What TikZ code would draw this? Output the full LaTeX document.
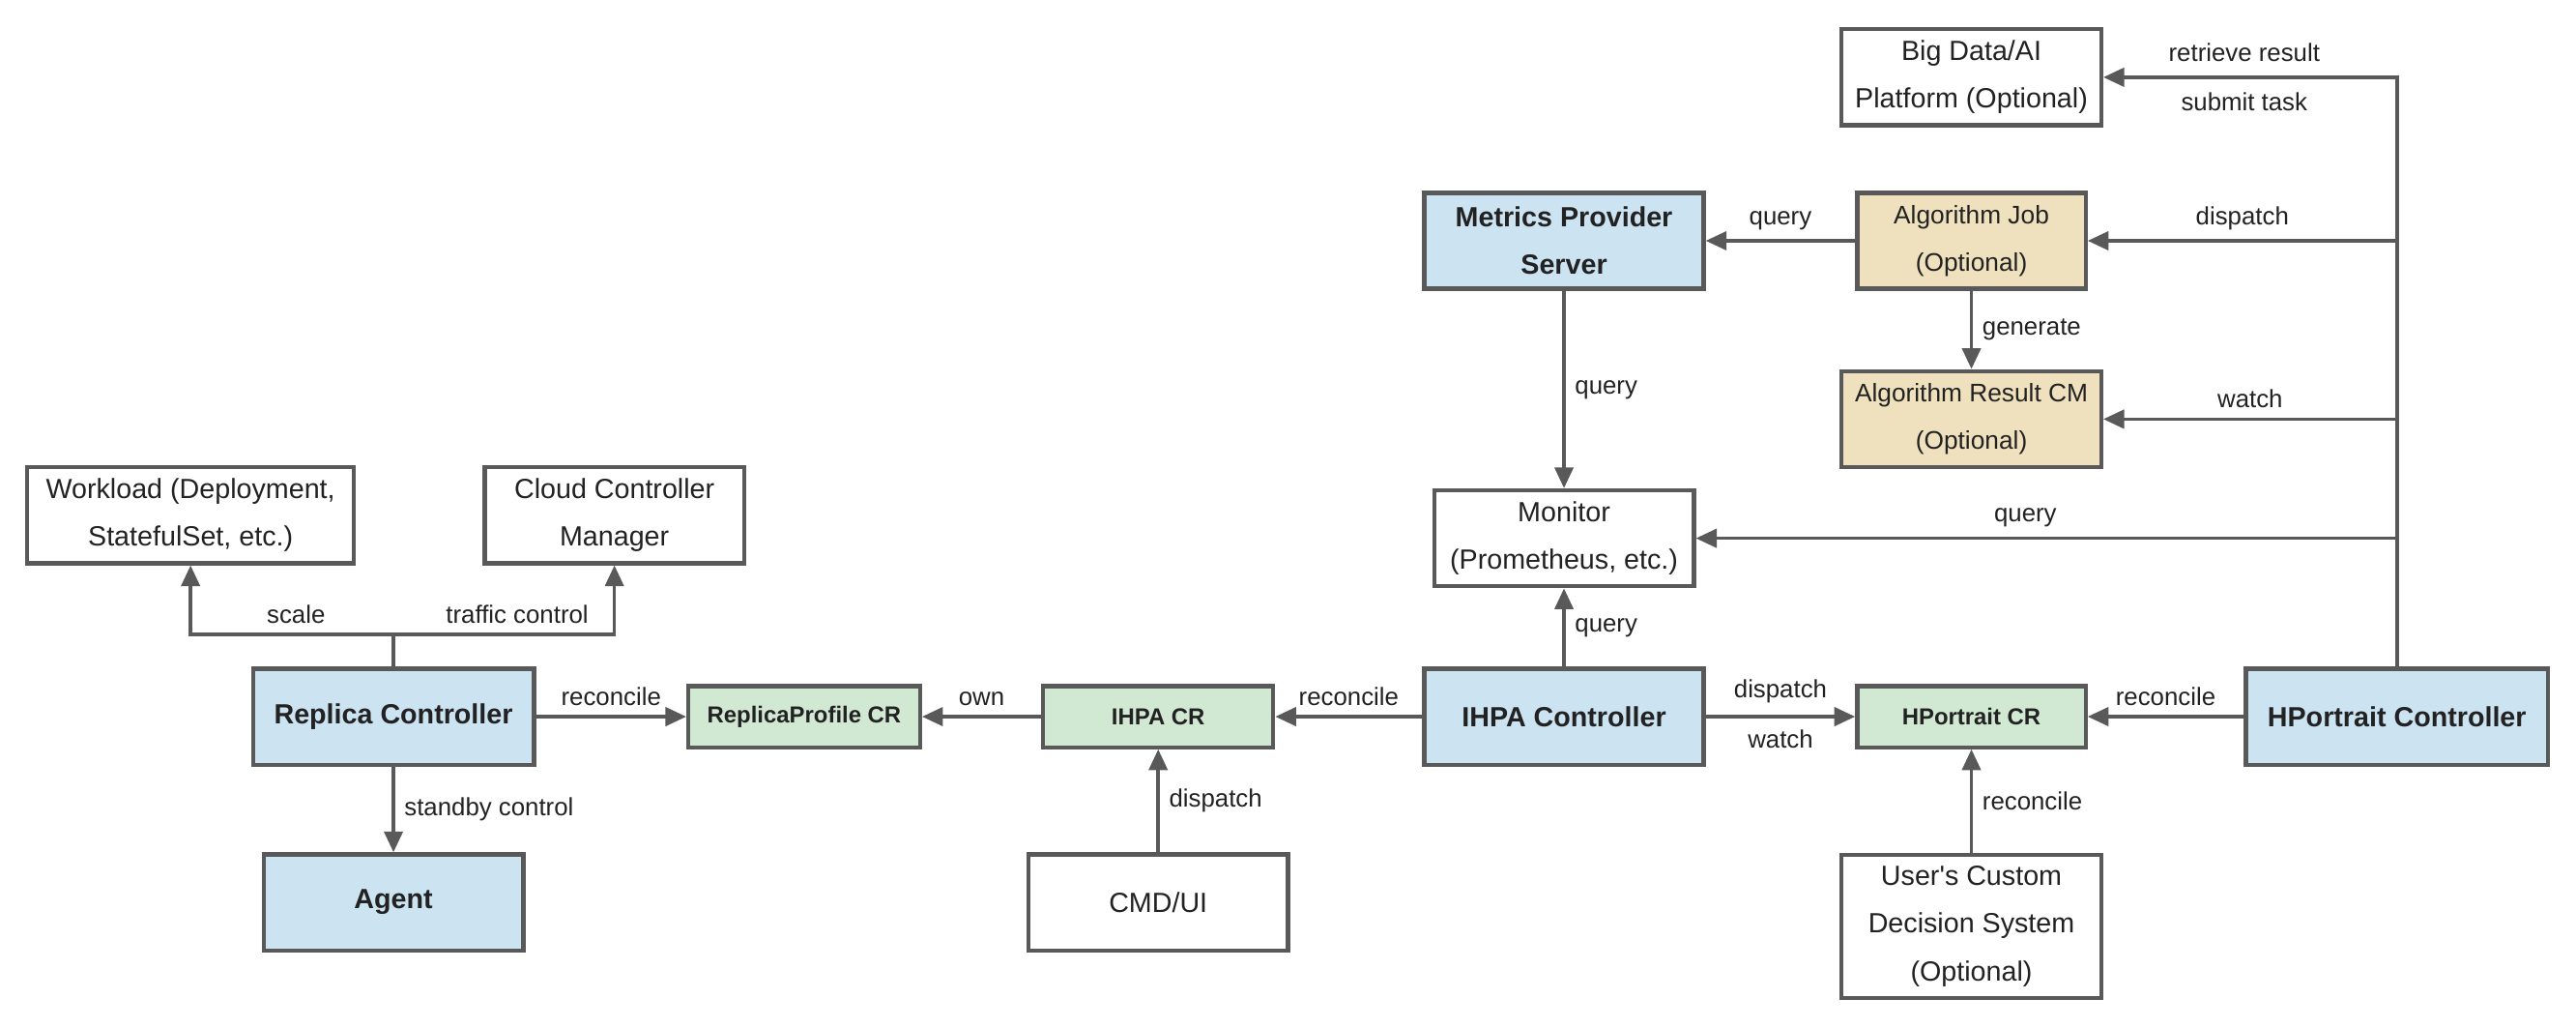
\documentclass[tikz,border=0pt]{standalone}
\usepackage{fontspec}
\setmainfont{Liberation Sans}
\newfontfamily\aposfont{Liberation Sans}[Ligatures=TeXOff]
\usepackage{xcolor}
\usepackage{tikz}
\usetikzlibrary{arrows.meta}

\definecolor{linegray}{HTML}{595959}
\definecolor{txtgray}{HTML}{222222}
\definecolor{ctrlblue}{HTML}{CCE3F2}
\definecolor{crgreen}{HTML}{D1E8D3}
\definecolor{opttan}{HTML}{EFE1BE}

\begin{document}
\begin{tikzpicture}[
    x=0.025cm, y=0.025cm,
    box/.style={rectangle, draw=linegray, line width=1.8pt, align=center, text=txtgray, inner sep=2pt,
        font=\fontsize{12}{20.6}\selectfont, minimum width=3.95cm, minimum height=1.46cm},
    ctrlbox/.style={box, fill=ctrlblue, font=\bfseries\fontsize{12}{20.6}\selectfont},
    crbox/.style={box, fill=crgreen, font=\bfseries\fontsize{10}{12}\selectfont, minimum width=3.5cm, minimum height=0.93cm},
    optbox/.style={box, fill=opttan, font=\fontsize{11}{20.6}\selectfont},
    lbl/.style={font=\fontsize{10.8}{12}\selectfont, text=txtgray, inner sep=4pt},
    arr/.style={-{Triangle[length=9pt,width=8pt]}, line width=1.5pt, draw=linegray},
    line/.style={line width=1.5pt, draw=linegray},
]
\useasboundingbox (0,0) rectangle (1568,-625.3);

% Replica side
\node[box, minimum width=4.975cm] (work) at (116,-313.5) {Workload (Deployment,\\StatefulSet, etc.)};
\node[box] (ccm) at (374,-313.5) {Cloud Controller\\Manager};
\node[ctrlbox, minimum width=4.275cm] (repc) at (239.5,-436) {Replica Controller};
\node[ctrlbox] (agent) at (239.5,-549) {Agent};
\node[crbox, minimum width=3.525cm] (rpcr) at (489.5,-436) {ReplicaProfile CR};

% IHPA
\node[crbox] (ihpacr) at (705,-436) {IHPA CR};
\node[box] (cmd) at (705,-549) {CMD/UI};
\node[ctrlbox, minimum width=4.25cm] (ihpac) at (952,-436) {IHPA Controller};
\node[box] (monitor) at (952,-327.5) {Monitor\\(Prometheus, etc.)};
\node[ctrlbox, minimum width=4.25cm] (metrics) at (952,-146.5) {Metrics Provider\\Server};

% Algorithm and HPortrait
\node[optbox, minimum width=3.475cm] (algjob) at (1200,-146.5) {Algorithm Job\\(Optional)};
\node[optbox] (algres) at (1200,-255) {Algorithm Result CM\\(Optional)};
\node[box] (bigdata) at (1200,-47) {Big Data/AI\\Platform (Optional)};
\node[crbox, minimum width=3.475cm] (hpcr) at (1200,-436) {HPortrait CR};
\node[box, minimum height=2.175cm] (user) at (1200,-563.5) {{\aposfont User's Custom}\\Decision System\\(Optional)};
\node[ctrlbox, minimum width=4.6cm] (hpc) at (1459,-436) {HPortrait Controller};

% Replica controller connections
\coordinate (rsplit) at (239.5,-386);
\draw[line] (repc.north) -- (rsplit);
\draw[arr] (rsplit) -| node[lbl, above, pos=0.24] {scale} (work.south);
\draw[arr] (rsplit) -| node[lbl, above, pos=0.28] {traffic control} (ccm.south);
\draw[arr] (repc.east) -- node[lbl, above] {reconcile} (rpcr.west);
\draw[arr] (repc.south) -- node[lbl, right] {standby control} (agent.north);

% IHPA connections
\draw[arr] (ihpacr.west) -- node[lbl, above] {own} (rpcr.east);
\draw[arr] (ihpac.west) -- node[lbl, above] {reconcile} (ihpacr.east);
\draw[arr] (cmd.north) -- node[lbl, right] {dispatch} (ihpacr.south);
\draw[arr] (ihpac.north) -- node[lbl, right] {query} (monitor.south);
\draw[arr] (metrics.south) -- node[lbl, right] {query} (monitor.north);
\draw[arr] (ihpac.east) -- node[lbl, above, inner sep=5pt] {dispatch} node[lbl, below, inner sep=5pt] {watch} (hpcr.west);

% Algorithm connections
\draw[arr] (algjob.west) -- node[lbl, above] {query} (metrics.east);
\draw[arr] (algjob.south) -- node[lbl, right] {generate} (algres.north);

% HPortrait connections
\draw[arr] (hpc.west) -- node[lbl, above] {reconcile} (hpcr.east);
\draw[arr] (user.north) -- node[lbl, right] {reconcile} (hpcr.south);

% trunk from HPortrait controller
\coordinate (tjob) at (hpc.north |- algjob.east);
\coordinate (tres) at (hpc.north |- algres.east);
\coordinate (tmon) at (hpc.north |- monitor.east);
\draw[arr] (hpc.north) |- node[lbl, above, pos=0.76, inner sep=6pt] {retrieve result} node[lbl, below, pos=0.76, inner sep=6pt] {submit task} (bigdata.east);
\draw[arr] (tjob) -- node[lbl, above] {dispatch} (algjob.east);
\draw[arr] (tres) -- node[lbl, above] {watch} (algres.east);
\draw[arr] (tmon) -- node[lbl, above, pos=0.53] {query} (monitor.east);

\end{tikzpicture}
\end{document}
